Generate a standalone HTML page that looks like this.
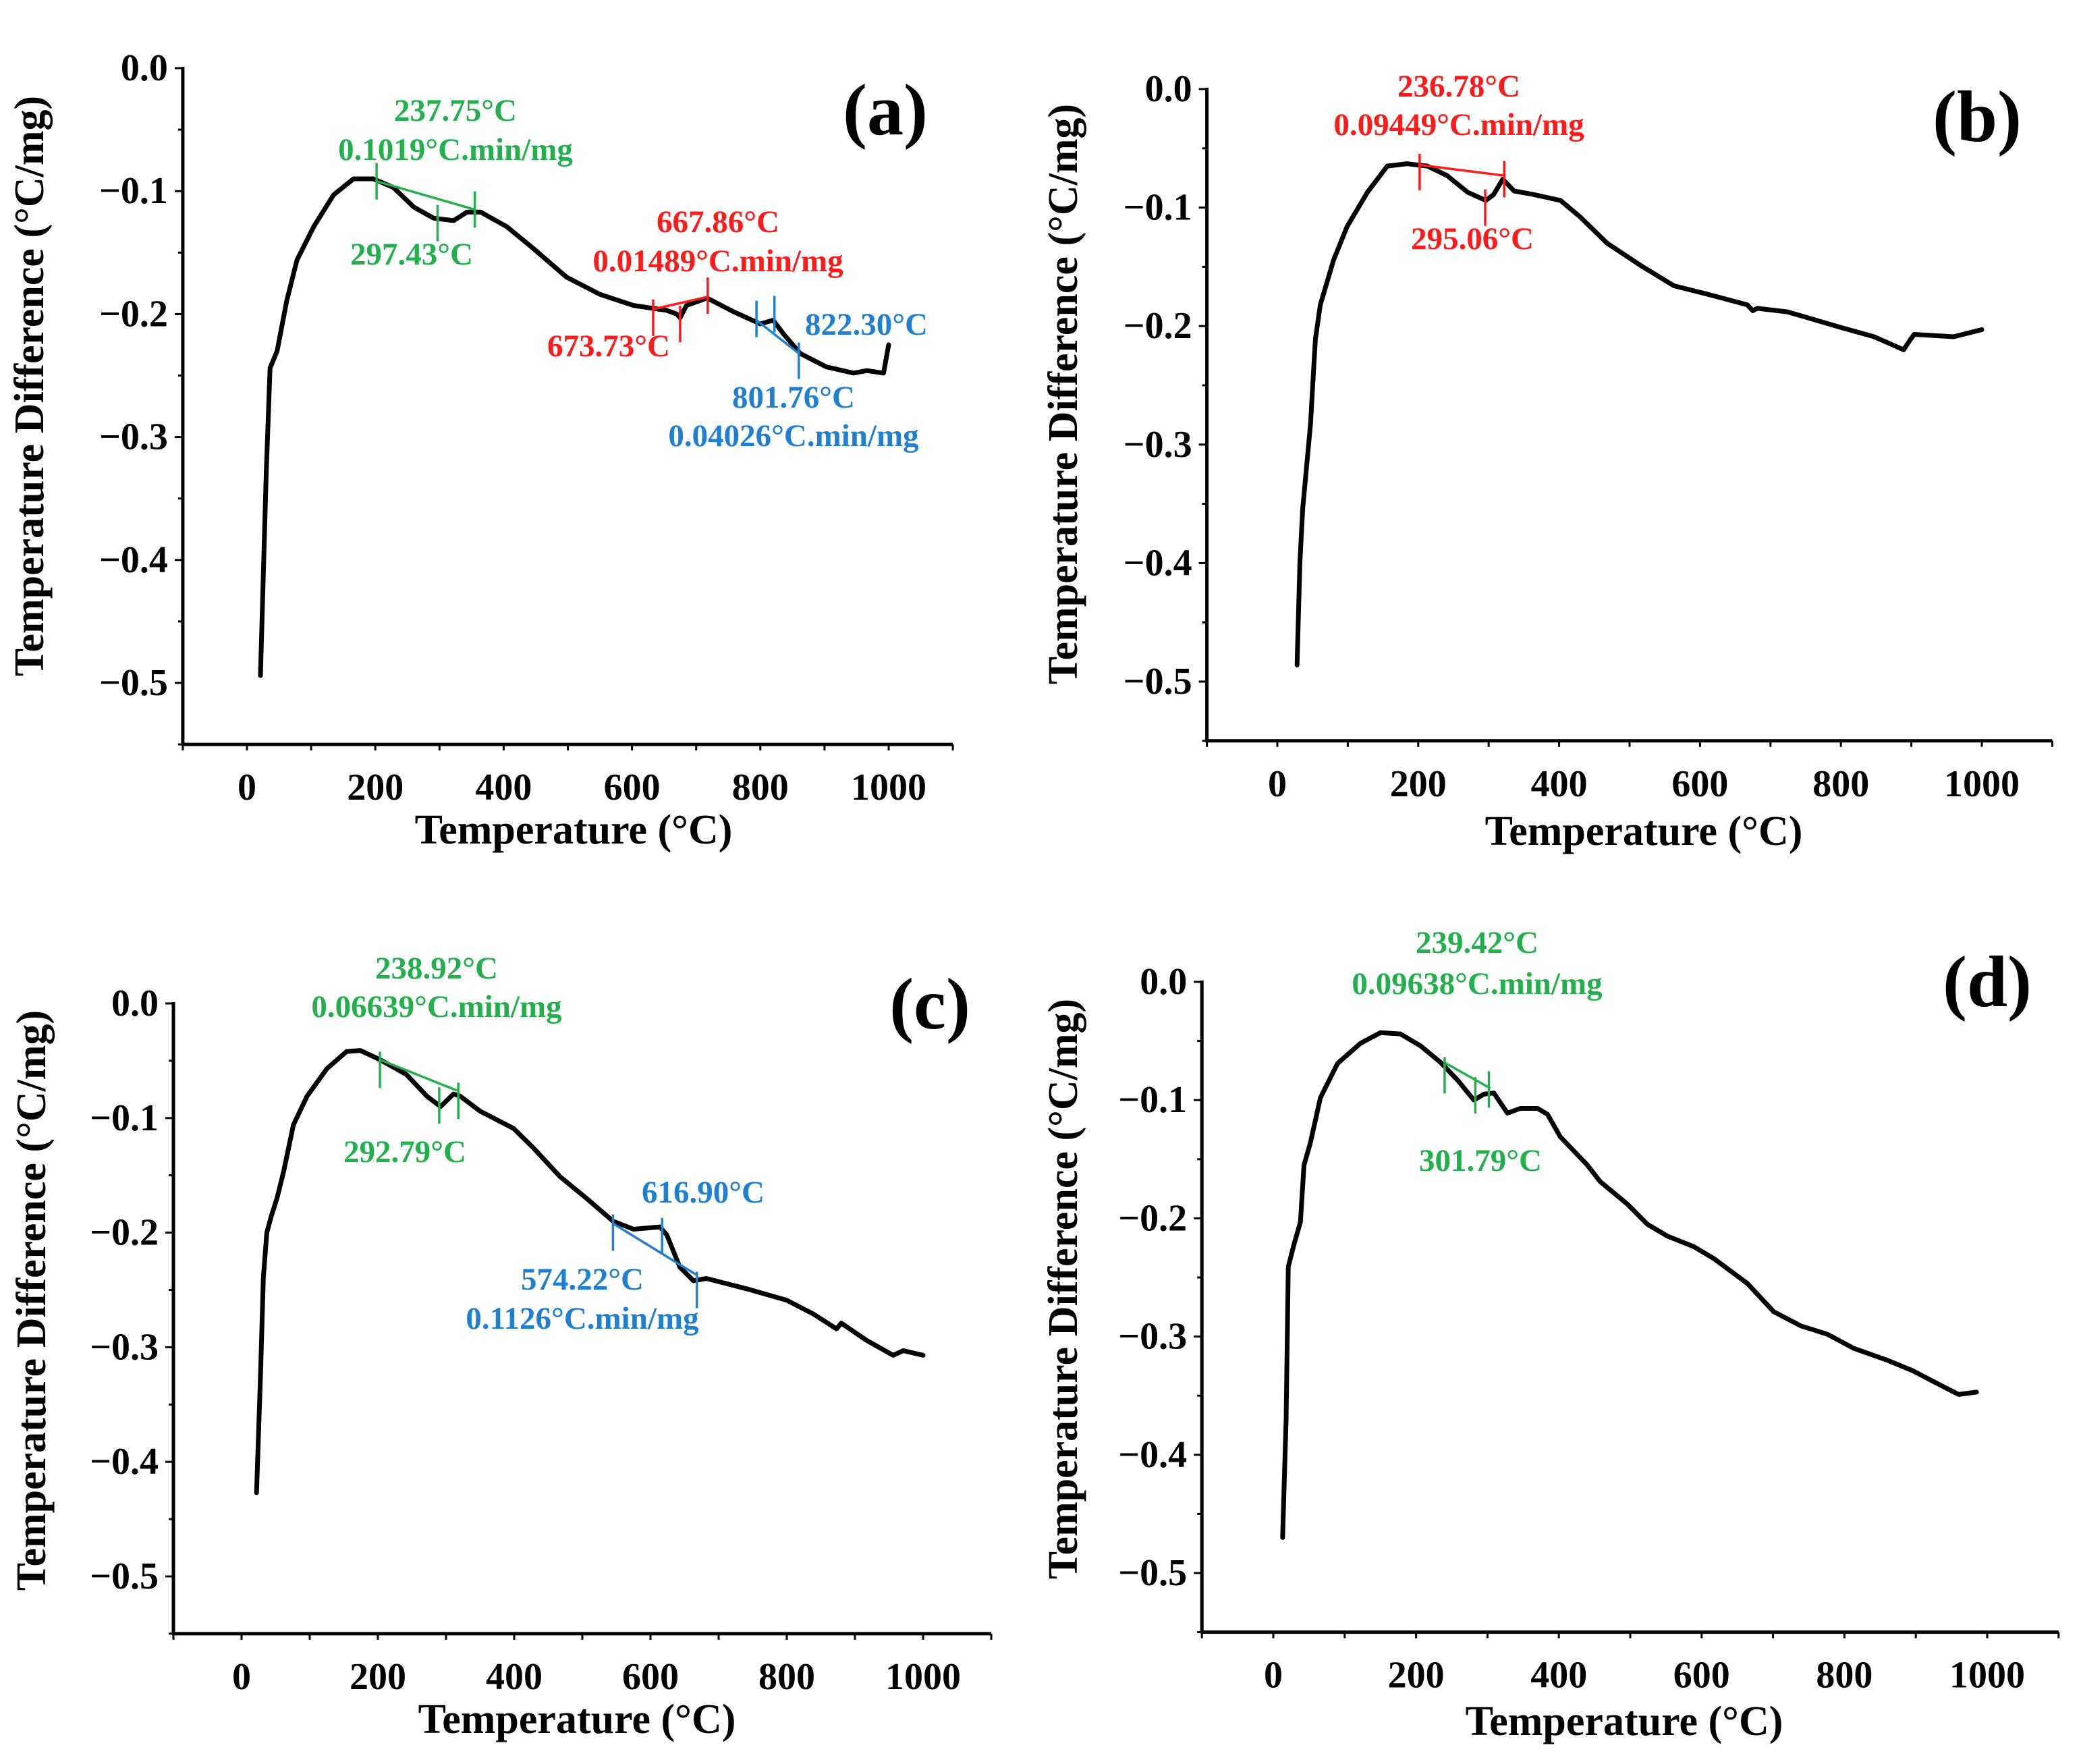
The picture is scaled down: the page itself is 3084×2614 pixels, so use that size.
<!DOCTYPE html>
<html><head><meta charset="utf-8">
<style>
html,body{margin:0;padding:0;background:#fff;}
svg{display:block;font-family:"Liberation Serif",serif;font-weight:bold;}
</style></head>
<body>
<svg id="fig" width="3084" height="2614" viewBox="0 0 3084 2614" xmlns="http://www.w3.org/2000/svg"></svg>
<script>
// ---- data: panel (a)
const aT=[21,30,36,47,62,78,104,135,166,197,228,260,291,322,343,364,405,447,498,550,602,654,670,675,685,717,758,800,820,836,862,903,945,966,992,1000];
const aV=[-0.494,-0.33,-0.244,-0.23,-0.189,-0.156,-0.129,-0.103,-0.090,-0.090,-0.097,-0.113,-0.122,-0.124,-0.117,-0.117,-0.129,-0.147,-0.170,-0.184,-0.193,-0.197,-0.200,-0.203,-0.193,-0.187,-0.198,-0.208,-0.205,-0.216,-0.232,-0.243,-0.248,-0.246,-0.248,-0.225];
// ---- data: panel (b)
const bT=[28,32,36,47,54,61,80,99,128,156,184,213,241,270,296,307,320,336,364,402,430,468,516,563,610,667,675,681,724,799,847,889,899,904,960,1000];
const bV=[-0.486,-0.40,-0.354,-0.283,-0.211,-0.182,-0.144,-0.116,-0.087,-0.065,-0.063,-0.065,-0.073,-0.087,-0.094,-0.089,-0.076,-0.086,-0.089,-0.094,-0.108,-0.130,-0.149,-0.166,-0.173,-0.182,-0.187,-0.185,-0.188,-0.201,-0.209,-0.220,-0.211,-0.207,-0.209,-0.203];
// ---- data: panel (c)
const cT=[22,28,32,37,44,52,62,76,96,125,154,174,203,242,272,292,311,321,350,399,428,467,506,545,575,614,624,643,663,682,741,800,839,873,880,917,956,971,1000];
const cV=[-0.427,-0.32,-0.239,-0.200,-0.185,-0.170,-0.146,-0.106,-0.081,-0.057,-0.042,-0.041,-0.049,-0.062,-0.081,-0.090,-0.079,-0.081,-0.094,-0.109,-0.126,-0.151,-0.170,-0.190,-0.197,-0.195,-0.202,-0.230,-0.242,-0.240,-0.249,-0.259,-0.271,-0.284,-0.279,-0.294,-0.307,-0.303,-0.307];
// ---- data: panel (d)
const dT=[13,18,21,29,38,43,52,66,90,122,150,178,206,234,258,281,295,309,328,346,370,384,402,440,458,496,524,552,589,617,664,701,739,776,813,860,896,934,960,985];
const dV=[-0.470,-0.370,-0.241,-0.222,-0.203,-0.155,-0.136,-0.098,-0.069,-0.052,-0.043,-0.044,-0.054,-0.068,-0.083,-0.100,-0.095,-0.094,-0.111,-0.107,-0.107,-0.112,-0.131,-0.155,-0.169,-0.188,-0.205,-0.215,-0.224,-0.234,-0.255,-0.279,-0.291,-0.298,-0.310,-0.320,-0.329,-0.341,-0.349,-0.347];
// ---- annotation tangents [T1,V1,T2,V2] and tick marks [T, Vcenter]
const aGreenLine=[202,-0.092,355,-0.115]; const aGreenTicks=[[202,-0.092],[297,-0.126],[355,-0.115]];
const aRedLine=[633,-0.196,718,-0.186];   const aRedTicks=[[633,-0.203],[675,-0.208],[718,-0.185]];
const aBlueLine=[794,-0.205,860,-0.232];  const aBlueTicks=[[794,-0.204],[822,-0.200],[860,-0.238]];
const bRedLine=[202,-0.064,322,-0.073];   const bRedTicks=[[202,-0.070],[295,-0.100],[322,-0.076]];
const cGreenLine=[203,-0.049,316,-0.076]; const cGreenTicks=[[203,-0.058],[290,-0.089],[318,-0.085]];
const cBlueLine=[545,-0.192,668,-0.237];  const cBlueTicks=[[545,-0.200],[617,-0.203],[668,-0.250]];
const dGreenLine=[239,-0.068,304,-0.090]; const dGreenTicks=[[240,-0.079],[283,-0.096],[302,-0.091]];
const xTickVals=[0,200,400,600,800,1000];
const yTickVals=[0,-0.1,-0.2,-0.3,-0.4,-0.5];
const yTickLabels=["0.0","\u22120.1","\u22120.2","\u22120.3","\u22120.4","\u22120.5"];

const GREEN="#22b04c", RED="#ff1a1a", BLUE="#1f7fd0";
const NS="http://www.w3.org/2000/svg";
const svg=document.getElementById('fig');
function mk(tag,attrs,parent){const e=document.createElementNS(NS,tag);for(const k in attrs)e.setAttribute(k,attrs[k]);(parent||svg).appendChild(e);return e;}

function panel(id,L,T,V,anns,texts){
  const g=mk('g',{});
  
  
  const sx=t=>L.x0+(t/1000)*(L.x1000-L.x0);
  const sy=v=>L.y0+(v/-0.5)*(L.y5-L.y0);
  const ax=sx(-100), axR=sx(1100), top=sy(0), bot=sy(-0.55);
  const ya=mk('line',{x1:ax,y1:top-2,x2:ax,y2:bot,stroke:'#000','stroke-width':5},g);
  
  
  const xa=mk('line',{x1:ax-2,y1:bot,x2:axR,y2:bot,stroke:'#000','stroke-width':5},g);
  
  
  for(let v=0;v>=-0.55;v-=0.05){const yy=sy(v);mk('line',{x1:ax-(Math.abs(Math.round(v*20))%2===0?12:7),y1:yy,x2:ax,y2:yy,stroke:'#000','stroke-width':3},g);}
  for(let t=-100;t<=1100;t+=100){mk('line',{x1:sx(t),y1:bot,x2:sx(t),y2:bot+9,stroke:'#000','stroke-width':3},g);}
  yTickVals.forEach((v,i)=>{const tx=mk('text',{x:ax-22,y:sy(v)+18,'text-anchor':'end','font-size':56},g);tx.textContent=yTickLabels[i];
    
    });
  xTickVals.forEach(t=>{const tx=mk('text',{x:sx(t),y:bot+82,'text-anchor':'middle','font-size':56},g);tx.textContent=String(t);
    
    });
  const xt=mk('text',{x:L.xtx,y:L.xty,'text-anchor':'middle','font-size':62},g);xt.textContent='Temperature (\u00B0C)';
  
  
  const yt=mk('text',{x:0,y:0,'text-anchor':'middle','font-size':62,transform:`translate(${L.ytx},${L.yty}) rotate(-90)`},g);yt.textContent='Temperature  Difference (\u00B0C/mg)';
  
  
  const d=T.map((t,i)=>(i?'L':'M')+sx(t).toFixed(1)+','+sy(V[i]).toFixed(1)).join(' ');
  const c=mk('path',{d:d,fill:'none',stroke:'#000','stroke-width':7,'stroke-linejoin':'round','stroke-linecap':'round'},g);
  
  
  anns.forEach(a=>{
    const ln=mk('line',{x1:sx(a.line[0]),y1:sy(a.line[1]),x2:sx(a.line[2]),y2:sy(a.line[3]),stroke:a.col,'stroke-width':3.5},g);
    
    
    a.ticks.forEach(k=>{const m=mk('line',{x1:sx(k[0]),y1:sy(k[1])-27,x2:sx(k[0]),y2:sy(k[1])+27,stroke:a.col,'stroke-width':3.5},g);
      
      });
  });
  texts.forEach(s=>{const fs=s[4]||47;const tx=mk('text',{x:s[0],y:s[1]+fs*0.36,'text-anchor':'middle','font-size':fs,fill:s[3]},g);tx.textContent=s[2];
    
    });
}

panel('a',{x0:366,x1000:1317,y0:101,y5:1012,xtx:850,xty:1250,ytx:64,yty:572},aT,aV,
 [{line:aGreenLine,ticks:aGreenTicks,col:GREEN},{line:aRedLine,ticks:aRedTicks,col:RED},{line:aBlueLine,ticks:aBlueTicks,col:BLUE}],
 [[675,162,'237.75\u00B0C',GREEN],[675,220,'0.1019\u00B0C.min/mg',GREEN],[610,375,'297.43\u00B0C',GREEN],
  [1064,327,'667.86\u00B0C',RED],[1064,385,'0.01489\u00B0C.min/mg',RED],[902,511,'673.73\u00B0C',RED],
  [1284,479,'822.30\u00B0C',BLUE],[1176,587,'801.76\u00B0C',BLUE],[1176,644,'0.04026\u00B0C.min/mg',BLUE],
  [1312,160,'(a)','#000',108]]);
panel('b',{x0:1893,x1000:2937,y0:132,y5:1010,xtx:2436,xty:1252,ytx:1596,yty:584},bT,bV,
 [{line:bRedLine,ticks:bRedTicks,col:RED}],
 [[2162,126,'236.78\u00B0C',RED],[2162,183,'0.09449\u00B0C.min/mg',RED],[2182,352,'295.06\u00B0C',RED],
  [2930,170,'(b)','#000',108]]);
panel('c',{x0:358,x1000:1368,y0:1487,y5:2336,xtx:855,xty:2568,ytx:67,yty:1927},cT,cV,
 [{line:cGreenLine,ticks:cGreenTicks,col:GREEN},{line:cBlueLine,ticks:cBlueTicks,col:BLUE}],
 [[647,1433,'238.92\u00B0C',GREEN],[647,1490,'0.06639\u00B0C.min/mg',GREEN],[600,1705,'292.79\u00B0C',GREEN],
  [1042,1765,'616.90\u00B0C',BLUE],[863,1894,'574.22\u00B0C',BLUE],[863,1952,'0.1126\u00B0C.min/mg',BLUE],
  [1378,1485,'(c)','#000',108]]);
panel('d',{x0:1887,x1000:2945,y0:1455,y5:2331,xtx:2407,xty:2571,ytx:1596,yty:1910},dT,dV,
 [{line:dGreenLine,ticks:dGreenTicks,col:GREEN}],
 [[2189,1395,'239.42\u00B0C',GREEN],[2189,1456,'0.09638\u00B0C.min/mg',GREEN],[2194,1718,'301.79\u00B0C',GREEN],
  [2945,1452,'(d)','#000',108]]);
</script>
</body></html>
